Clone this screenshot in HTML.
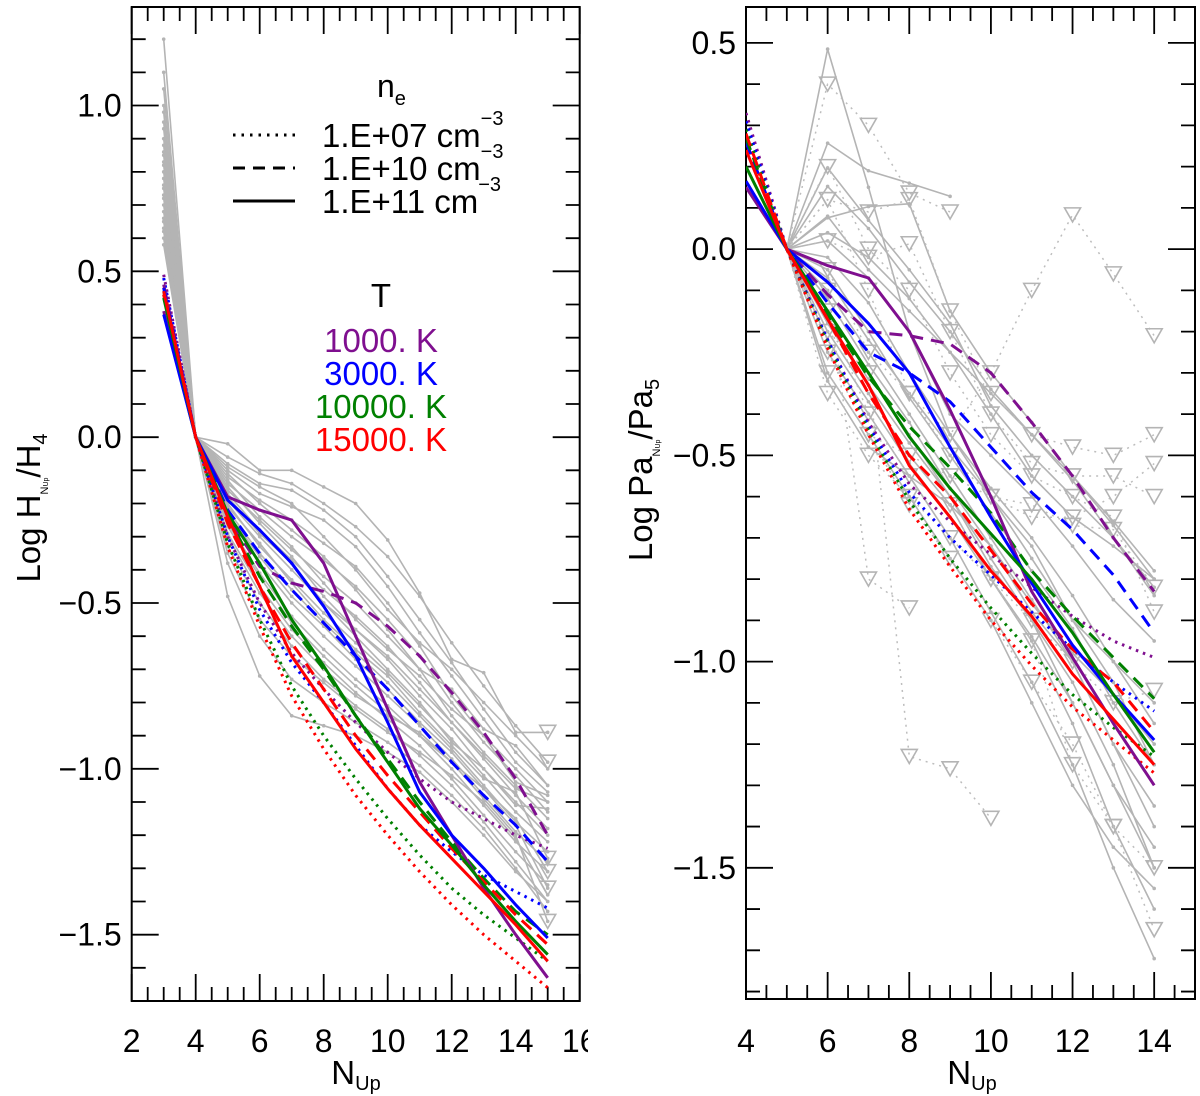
<!DOCTYPE html>
<html><head><meta charset="utf-8"><style>
html,body{margin:0;padding:0;background:#fff}
svg{display:block}
text{font-family:"Liberation Sans",Helvetica,Arial,sans-serif;fill:#000}
</style></head><body>
<svg id="fig" width="1200" height="1096" viewBox="0 0 1200 1096" xmlns="http://www.w3.org/2000/svg">
<defs><clipPath id="clipAll"><rect x="0" y="0" width="588" height="1096"/></clipPath>
<clipPath id="clipL"><rect x="131" y="7" width="449" height="994"/></clipPath>
<clipPath id="clipR"><rect x="746" y="7" width="449" height="992"/></clipPath></defs>
<g id="left" clip-path="url(#clipAll)"></g>
<g id="right"></g>
</svg>
<script>
// ---------- LEFT PANEL DATA (N_up = 3..15, normalised to H4) ----------
const leftN = [3,4,5,6,7,8,9,10,11,12,13,14,15];
const tempLabels = ["1000. K","3000. K","10000. K","15000. K"];
const tempColors = ["#7f0f8f","#0000ff","#008000","#ff0000"];
const densLabels = ["1.E+07","1.E+10","1.E+11"];
// dotted (1e7)
const leftDot1000  = [0.49,0,-0.30,-0.50,-0.65,-0.76,-0.86,-0.95,-1.03,-1.10,-1.15,-1.20,-1.24];
const leftDot3000  = [0.48,0,-0.30,-0.52,-0.68,-0.80,-0.93,-1.06,-1.17,-1.25,-1.32,-1.37,-1.42];
const leftDot10000 = [0.44,0,-0.32,-0.55,-0.75,-0.90,-1.03,-1.15,-1.26,-1.36,-1.44,-1.51,-1.58];
const leftDot15000 = [0.45,0,-0.33,-0.57,-0.78,-0.94,-1.08,-1.20,-1.31,-1.41,-1.50,-1.58,-1.66];
// dashed (1e10)
const leftDash1000  = [0.46,0,-0.24,-0.39,-0.44,-0.465,-0.50,-0.57,-0.66,-0.77,-0.89,-1.03,-1.20];
const leftDash3000  = [0.45,0,-0.22,-0.35,-0.46,-0.56,-0.66,-0.76,-0.87,-0.98,-1.08,-1.17,-1.28];
const leftDash10000 = [0.43,0,-0.24,-0.42,-0.57,-0.70,-0.84,-0.97,-1.10,-1.22,-1.33,-1.43,-1.50];
const leftDash15000 = [0.43,0,-0.26,-0.45,-0.62,-0.76,-0.90,-1.02,-1.13,-1.24,-1.34,-1.44,-1.53];
// solid (1e11)
const leftSol1000  = [0.38,0,-0.18,-0.22,-0.25,-0.38,-0.60,-0.82,-1.04,-1.20,-1.36,-1.50,-1.63];
const leftSol3000  = [0.37,0,-0.19,-0.28,-0.38,-0.51,-0.66,-0.86,-1.07,-1.20,-1.30,-1.41,-1.51];
const leftSol10000 = [0.42,0,-0.23,-0.38,-0.55,-0.69,-0.84,-0.98,-1.12,-1.23,-1.35,-1.46,-1.56];
const leftSol15000 = [0.44,0,-0.24,-0.45,-0.66,-0.80,-0.94,-1.06,-1.17,-1.27,-1.37,-1.47,-1.58];
// observed (grey)
const leftObs = [
 [1.20,0,-0.02,-0.10,-0.10,-0.15,-0.20,-0.31,-0.47,-0.67,-0.71,-0.89,-0.89],
 [1.05,0,-0.08,-0.14,-0.16,-0.22,-0.30,-0.42,-0.55,-0.68,-0.82,-0.95,-1.05],
 [0.98,0,-0.10,-0.17,-0.21,-0.25,-0.33,-0.45,-0.59,-0.72,-0.85,-0.98,-1.07],
 [0.93,0,-0.12,-0.19,-0.25,-0.32,-0.39,-0.50,-0.63,-0.78,-0.90,-1.00,-1.10],
 [0.90,0,-0.14,-0.22,-0.30,-0.37,-0.45,-0.55,-0.66,-0.80,-0.92,-1.02,-1.13],
 [0.86,0,-0.16,-0.25,-0.34,-0.42,-0.50,-0.60,-0.70,-0.84,-0.95,-1.05,-1.15],
 [0.83,0,-0.17,-0.28,-0.37,-0.46,-0.54,-0.63,-0.74,-0.86,-0.97,-1.08,-1.18],
 [0.80,0,-0.19,-0.30,-0.40,-0.50,-0.58,-0.67,-0.78,-0.88,-1.00,-1.10,-1.20],
 [0.78,0,-0.20,-0.33,-0.43,-0.53,-0.62,-0.71,-0.81,-0.91,-1.02,-1.13,-1.22],
 [0.75,0,-0.22,-0.35,-0.46,-0.56,-0.65,-0.74,-0.84,-0.94,-1.05,-1.16,-1.25],
 [0.72,0,-0.24,-0.38,-0.50,-0.60,-0.69,-0.78,-0.87,-0.97,-1.08,-1.19,-1.28],
 [0.70,0,-0.26,-0.41,-0.54,-0.64,-0.73,-0.81,-0.90,-1.00,-1.11,-1.22,-1.31],
 [0.68,0,-0.29,-0.45,-0.58,-0.68,-0.77,-0.85,-0.93,-1.03,-1.14,-1.25,-1.35],
 [0.66,0,-0.33,-0.50,-0.63,-0.73,-0.81,-0.88,-0.96,-1.05,-1.16,-1.28,-1.40],
 [0.63,0,-0.38,-0.60,-0.73,-0.80,-0.86,-0.92,-0.99,-1.08,-1.18,-1.30,-1.43],
 [0.60,0,-0.48,-0.72,-0.84,-0.87,-0.90,-0.95,-1.01,-1.10,-1.20,-1.31,-1.40],
 [1.10,0,-0.06,-0.11,-0.14,-0.20,-0.27,-0.36,-0.48,-0.62,-0.75,-0.87,-0.98],
 [1.00,0,-0.09,-0.15,-0.20,-0.30,-0.40,-0.52,-0.62,-0.70,-0.80,-0.90,-1.00],
 [0.95,0,-0.11,-0.20,-0.28,-0.36,-0.46,-0.58,-0.70,-0.76,-0.88,-0.93,-1.05],
 [0.88,0,-0.13,-0.24,-0.33,-0.44,-0.55,-0.64,-0.72,-0.82,-0.90,-1.04,-1.08],
 [0.85,0,-0.15,-0.26,-0.36,-0.48,-0.58,-0.66,-0.76,-0.86,-0.96,-1.06,-1.10],
 [0.82,0,-0.18,-0.29,-0.38,-0.50,-0.60,-0.70,-0.80,-0.92,-1.00,-1.11,-1.12],
 [0.76,0,-0.21,-0.32,-0.44,-0.55,-0.64,-0.72,-0.83,-0.93,-1.03,-1.07,-1.27],
 [0.73,0,-0.23,-0.36,-0.48,-0.57,-0.67,-0.76,-0.86,-0.95,-1.06,-1.17,-1.36],
 [0.65,0,-0.30,-0.47,-0.60,-0.70,-0.78,-0.84,-0.89,-0.98,-1.06,-1.15,-1.31],
 [0.62,0,-0.35,-0.55,-0.66,-0.74,-0.82,-0.89,-0.95,-1.02,-1.10,-1.21,-1.38],
 [0.58,0,-0.27,-0.42,-0.56,-0.66,-0.75,-0.83,-0.90,-0.98,-1.09,-1.20,-1.46]
];
const leftObsLimits = [0,16,22,23,24,26];
const leftXTicks = [2,4,6,8,10,12,14,16];
const leftYTicks = [1.0,0.5,0.0,-0.5,-1.0,-1.5];

// ---------- RIGHT PANEL DATA (N_up = 4..14, normalised to Pa5) ----------
const rightN = [4,5,6,7,8,9,10,11,12,13,14];
const rightDot1000  = [0.33,0,-0.22,-0.42,-0.57,-0.66,-0.74,-0.82,-0.89,-0.95,-0.99];
const rightDot3000  = [0.31,0,-0.22,-0.43,-0.59,-0.70,-0.79,-0.88,-0.97,-1.05,-1.12];
const rightDot10000 = [0.29,0,-0.23,-0.44,-0.61,-0.75,-0.87,-0.98,-1.08,-1.16,-1.23];
const rightDot15000 = [0.27,0,-0.24,-0.45,-0.63,-0.77,-0.90,-1.01,-1.11,-1.19,-1.27];
const rightDash1000  = [0.26,0,-0.11,-0.20,-0.21,-0.23,-0.30,-0.42,-0.55,-0.70,-0.83];
const rightDash3000  = [0.26,0,-0.13,-0.25,-0.30,-0.37,-0.48,-0.59,-0.68,-0.79,-0.93];
const rightDash10000 = [0.27,0,-0.16,-0.31,-0.43,-0.53,-0.64,-0.78,-0.89,-0.99,-1.09];
const rightDash15000 = [0.28,0,-0.17,-0.35,-0.50,-0.60,-0.73,-0.86,-0.97,-1.05,-1.17];
const rightSol1000  = [0.15,0,-0.04,-0.07,-0.20,-0.39,-0.60,-0.83,-0.99,-1.15,-1.30];
const rightSol3000  = [0.165,0,-0.08,-0.18,-0.30,-0.48,-0.65,-0.81,-0.96,-1.08,-1.19];
const rightSol10000 = [0.20,0,-0.15,-0.30,-0.455,-0.58,-0.69,-0.80,-0.93,-1.08,-1.22];
const rightSol15000 = [0.24,0,-0.17,-0.33,-0.525,-0.65,-0.78,-0.89,-1.03,-1.14,-1.25];
const rightObsSolid = [
 [null,0,0.485,0.15,-0.20,-0.45,-0.60,-0.75,-0.90,-1.00,-1.10],
 [null,0,0.257,0.19,0.16,0.128,null,null,null,null,null],
 [null,0,0.197,0.07,-0.05,-0.18,-0.38,-0.50,-0.60,-0.70,-0.82],
 [null,0,0.152,0.05,-0.08,-0.20,-0.34,-0.45,-0.55,-0.66,-0.78],
 [null,0,0.076,0.103,0.11,-0.15,-0.30,-0.42,-0.55,-0.67,-0.80],
 [null,0,0.04,-0.02,-0.12,-0.25,-0.35,-0.45,-0.56,-0.70,-0.84],
 [null,0,0.02,-0.07,-0.20,-0.40,-0.50,-0.60,-0.72,-0.85,-0.95],
 [null,0,-0.02,-0.13,-0.30,-0.45,-0.58,-0.70,-0.84,-1.00,-1.15],
 [null,0,-0.05,-0.20,-0.36,-0.50,-0.64,-0.78,-0.92,-1.10,-1.25],
 [null,0,-0.10,-0.25,-0.40,-0.55,-0.70,-0.85,-1.00,-1.20,-1.40],
 [null,0,-0.15,-0.30,-0.45,-0.60,-0.75,-0.90,-1.05,-1.25,-1.50],
 [null,0,-0.20,-0.35,-0.50,-0.62,-0.80,-0.95,-1.15,-1.40,-1.60],
 [null,0,-0.25,-0.40,-0.55,-0.70,-0.88,-1.05,-1.25,-1.50,-1.72],
 [null,0,-0.30,-0.45,-0.60,-0.75,-0.90,-1.10,-1.30,-1.45,-1.55],
 [null,0,-0.12,-0.28,-0.42,-0.58,-0.72,-0.86,-0.98,-1.08,-1.20],
 [null,0,-0.07,-0.22,-0.35,-0.48,-0.60,-0.72,-0.90,-1.05,-1.25],
 [null,0,-0.18,-0.33,-0.47,-0.60,-0.77,-0.90,-1.10,-1.30,-1.50],
 [null,0,-0.22,-0.37,-0.52,-0.65,-0.80,-0.94,-1.10,-1.30,-1.45],
 [null,0,-0.32,-0.48,-0.55,-0.62,-0.72,-0.88,-1.00,-1.20,-1.35],
 [null,0,0.08,-0.05,-0.15,-0.25,-0.40,-0.55,-0.65,-0.72,-0.80]
];
const rightObsLimit = [
 [null,0,0.40,0.30,0.136,0.09,null,null,null,null,null],
 [null,0,0.12,-0.10,-0.35,-0.45,-0.30,-0.10,0.083,-0.06,-0.21],
 [null,0,0.12,0.09,0.12,-0.15,-0.35,-0.45,-0.48,-0.50,-0.45],
 [null,0,0.02,-0.02,0.013,-0.20,-0.40,-0.52,-0.55,-0.55,-0.60],
 [null,0,-0.10,-0.80,-0.87,null,null,null,null,null,null],
 [null,0,-0.20,-0.30,-1.23,-1.26,-1.38,null,null,null,null],
 [null,0,-0.30,-0.45,-0.50,-0.55,-0.60,-0.62,-0.67,-0.68,-0.82],
 [null,0,-0.35,-0.50,-0.60,-0.70,-0.80,-0.90,-1.00,-1.10,-1.07],
 [null,0,-0.15,-0.40,-0.55,-0.62,-0.80,-0.95,-1.25,-1.40,-1.50],
 [null,0,-0.25,-0.45,-0.62,-0.75,-0.90,-1.05,-1.20,-1.40,-1.65],
 [null,0,-0.05,-0.25,-0.35,-0.50,-0.60,-0.65,-0.65,-0.60,-0.52],
 [null,0,0.20,0.00,-0.10,-0.30,-0.45,-0.55,-0.60,-0.65,-0.88]
];
const rightXTicks = [4,6,8,10,12,14];
const rightYTicks = [0.5,0.0,-0.5,-1.0,-1.5];

// ---------- AXES ----------
const NS="http://www.w3.org/2000/svg";
const L={x0:131.7,x1:579.7,y0:7,y1:1001,xmin:2,xmax:16,ymin:-1.7,ymax:1.297};
const R={x0:746,x1:1195,y0:7,y1:999,xmin:4,xmax:15,ymin:-1.818,ymax:0.587};
function sx(P,v){return P.x0+(v-P.xmin)/(P.xmax-P.xmin)*(P.x1-P.x0);}
function sy(P,v){return P.y1-(v-P.ymin)/(P.ymax-P.ymin)*(P.y1-P.y0);}
function mk(tag,attrs,parent){const e=document.createElementNS(NS,tag);for(const k in attrs)e.setAttribute(k,attrs[k]);parent.appendChild(e);return e;}
const dashFor=["2.5 5","13 8",""];

function drawFrame(P,g,xt,yt,prefix){
  const r=mk('rect',{x:P.x0,y:P.y0,width:P.x1-P.x0,height:P.y1-P.y0,fill:'none',stroke:'#000','stroke-width':2},g);
  
  
  let d='';
  for(let v=P.xmin;v<=P.xmax+1e-6;v+=0.5){
    const x=sx(P,v);const maj=Math.abs(v/2-Math.round(v/2))<1e-6;const len=maj?27:14;
    d+=`M${x},${P.y1}V${P.y1-len}M${x},${P.y0}V${P.y0+len}`;}
  const yStart=Math.ceil(P.ymin*10-1e-6);
  for(let i=yStart;i<=Math.floor(P.ymax*10+1e-6);i++){
    const v=i/10;const y=sy(P,v);const maj=(i%5===0);const len=maj?27:14;
    d+=`M${P.x0},${y}H${P.x0+len}M${P.x1},${y}H${P.x1-len}`;}
  const t=mk('path',{d:d,stroke:'#000','stroke-width':1.8,fill:'none'},g);
  
  
  xt.forEach(v=>{const e=mk('text',{x:sx(P,v),y:1052,'text-anchor':'middle','font-size':32},g);e.textContent=String(v);
    
    });
  yt.forEach(v=>{const e=mk('text',{x:P.x0-10,y:sy(P,v)+11,'text-anchor':'end','font-size':32},g);
    e.textContent=(v<0?'\u2212':'')+Math.abs(v).toFixed(1);
    
    });
}
function drawSeries(P,g,xs,ys,color,width,dash,name,dots){
  let d='';let pen=false;
  xs.forEach((n,i)=>{const v=ys[i];if(v===null||v===undefined){pen=false;return;}
    d+=(pen?'L':'M')+sx(P,n).toFixed(1)+','+sy(P,v).toFixed(1);pen=true;});
  const p=mk('path',{d:d,fill:'none',stroke:color,'stroke-width':width,'stroke-linejoin':'round'},g);
  if(dash)p.setAttribute('stroke-dasharray',dash);
  
  
  if(dots){xs.forEach((n,i)=>{const v=ys[i];if(v===null)return;
    const c=mk('circle',{cx:sx(P,n),cy:sy(P,v),r:1.8,fill:color},g);
    
    });}
}
function tri(P,g,n,v,name){
  const x=sx(P,n),y=sy(P,v);
  const t=mk('path',{d:`M${x-8},${y-7}L${x+8},${y-7}L${x},${y+7}Z`,fill:'none',stroke:'#b4b4b4','stroke-width':1.6},g);
  
  
}

// ---------- LEFT ----------
const gL=document.getElementById('left');
drawFrame(L,gL,leftXTicks,leftYTicks,'left');
const gLd=mk('g',{'clip-path':'url(#clipL)'},gL);


leftObs.forEach((s,i)=>{drawSeries(L,gLd,leftN,s,'#b4b4b4',1.6,'','left-observed-line',true);
  if(leftObsLimits.includes(i))tri(L,gLd,leftN[leftN.length-1],s[s.length-1],'left-upper-limit');});
const leftModels=[[leftDot1000,leftDot3000,leftDot10000,leftDot15000],[leftDash1000,leftDash3000,leftDash10000,leftDash15000],[leftSol1000,leftSol3000,leftSol10000,leftSol15000]];
leftModels.forEach((grp,di)=>grp.forEach((s,ti)=>drawSeries(L,gLd,leftN,s,tempColors[ti],3,dashFor[di],'left-model-'+densLabels[di]+'-'+tempLabels[ti].replace('. K','K'),false)));

// ---------- RIGHT ----------
const gR=document.getElementById('right');
drawFrame(R,gR,rightXTicks,rightYTicks,'right');
const gRd=mk('g',{'clip-path':'url(#clipR)'},gR);


rightObsSolid.forEach(s=>drawSeries(R,gRd,rightN,s,'#b4b4b4',1.6,'','right-observed-line',true));
rightObsLimit.forEach(s=>{drawSeries(R,gRd,rightN,s,'#bdbdbd',1.5,'2 5','right-observed-limit-line',false);
  rightN.forEach((n,i)=>{if(s[i]!==null&&n!==5)tri(R,gRd,n,s[i],'right-upper-limit');});});
const rightModels=[[rightDot1000,rightDot3000,rightDot10000,rightDot15000],[rightDash1000,rightDash3000,rightDash10000,rightDash15000],[rightSol1000,rightSol3000,rightSol10000,rightSol15000]];
rightModels.forEach((grp,di)=>grp.forEach((s,ti)=>drawSeries(R,gRd,rightN,s,tempColors[ti],3,dashFor[di],'right-model-'+densLabels[di]+'-'+tempLabels[ti].replace('. K','K'),false)));

// ---------- LEGEND (left panel) ----------
const lg=mk('g',{},gL);


let ne=mk('text',{x:377,y:97,'font-size':32},lg);ne.innerHTML='n<tspan font-size="20" dy="8">e</tspan>';


const rowsY=[147,180,213];
densLabels.forEach((lab,i)=>{
  const ly=rowsY[i]-12;
  const ln=mk('path',{d:`M233,${ly}H295`,stroke:'#000','stroke-width':3,fill:'none'},lg);
  if(dashFor[i])ln.setAttribute('stroke-dasharray',i===0?'2.5 6':'12 8');
  
  
  const t=mk('text',{x:322,y:rowsY[i],'font-size':33},lg);
  t.innerHTML=lab+' cm<tspan font-size="20" dy="-22">\u22123</tspan>';
  
  
});
let tt=mk('text',{x:381,y:307,'text-anchor':'middle','font-size':33},lg);tt.textContent='T';


tempLabels.forEach((lab,i)=>{const t=mk('text',{x:381,y:352+i*33,'text-anchor':'middle','font-size':33,fill:tempColors[i]},lg);
  t.setAttribute('style','fill:'+tempColors[i]);t.textContent=lab;
  
  });

// ---------- AXIS TITLES ----------
function xTitle(g,cx,name){const t=mk('text',{x:cx,y:1084,'text-anchor':'middle','font-size':33},g);
  t.innerHTML='N<tspan font-size="20" dy="6">Up</tspan>';
  
  }
xTitle(gL,356,'left-x-axis-title');
xTitle(gR,972,'right-x-axis-title');
let yl=mk('text',{x:0,y:0,'text-anchor':'middle','font-size':33,transform:'translate(40,508) rotate(-90)'},gL);
yl.innerHTML='Log H<tspan font-size="11" dy="8">N<tspan font-size="7">Up</tspan></tspan><tspan dy="-8">/H</tspan><tspan font-size="20" dy="7">4</tspan>';


let yr=mk('text',{x:0,y:0,'text-anchor':'middle','font-size':33,transform:'translate(652,470) rotate(-90)'},gR);
yr.innerHTML='Log Pa<tspan font-size="11" dy="8">N<tspan font-size="7">Up</tspan></tspan><tspan dy="-8">/Pa</tspan><tspan font-size="20" dy="7">5</tspan>';


</script>
</body></html>
